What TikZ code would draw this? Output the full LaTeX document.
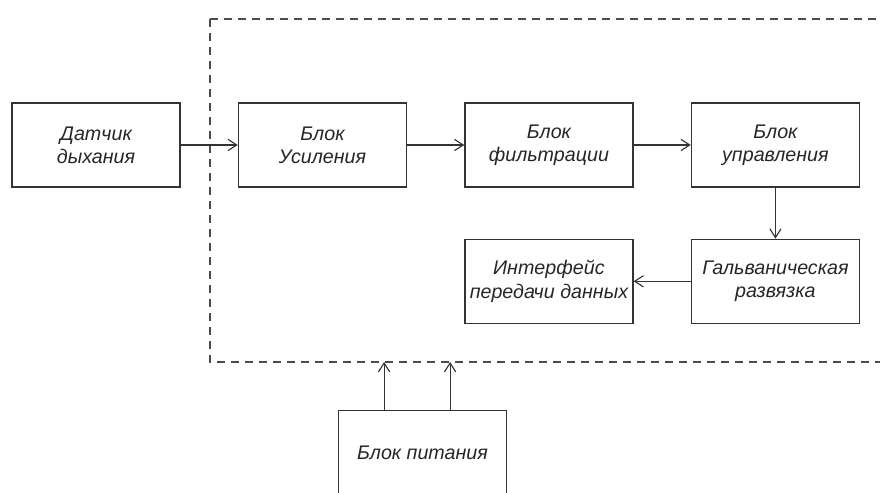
\documentclass[tikz,border=0pt]{standalone}
\usepackage{fontspec}
\setmainfont{Liberation Sans}
\usetikzlibrary{positioning,arrows.meta}

\begin{document}
\begin{tikzpicture}[x=0.25mm,y=-0.25mm,node distance=12.75mm and 14.3mm,
    >={Straight Barb[length=2.2mm,width=2.8mm]}]
  \tikzstyle{every node}=[font=\itshape\fontsize{14}{16.5}\selectfont,align=center,text=black!85]
  \tikzstyle{blok}=[draw=black!80,line width=0.9pt,minimum width=42mm,minimum height=21mm]
  \tikzstyle{link}=[->,draw=black!80,line width=0.8pt]
  \useasboundingbox (0,0) rectangle (880,493);
  % dashed frame of the device
  \coordinate (fnw) at (210,19);
  \coordinate (fse) at (900,362);
  \draw[draw=black!70,line width=0.8pt,dash pattern=on 2mm off 1.5mm] (fnw) rectangle (fse);
  \node[blok] (datchik) at (96,145) {Датчик\\дыхания};
  \node[blok,right=of datchik] (usil) {Блок\\Усиления};
  \node[blok,right=of usil] (filtr) {Блок\\фильтрации};
  \node[blok,right=of filtr] (uprav) {Блок\\управления};
  \node[blok,below=of uprav] (galv) {Гальваническая\\развязка};
  \node[blok,below=of filtr] (interf) {Интерфейс\\передачи данных};
  \node[blok,anchor=north] (pitan) at (422.5,410) {Блок питания};
  % connections
  \draw[link] (datchik) -- (usil);
  \draw[link] (usil) -- (filtr);
  \draw[link] (filtr) -- (uprav);
  \draw[link] (uprav) -- (galv);
  \draw[link] (galv) -- (interf);
  \draw[link] ([xshift=-9.6mm]pitan.north) -- ([xshift=-9.6mm]pitan.north |- fse);
  \draw[link] ([xshift=6.9mm]pitan.north) -- ([xshift=6.9mm]pitan.north |- fse);
\end{tikzpicture}
\end{document}
